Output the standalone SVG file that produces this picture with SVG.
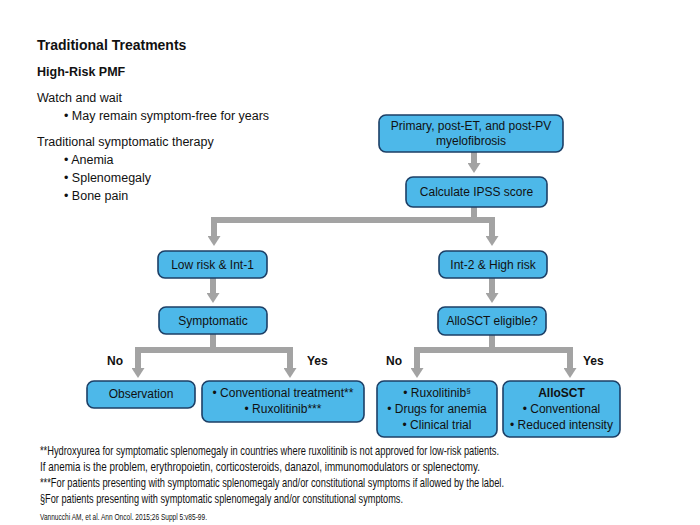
<svg xmlns="http://www.w3.org/2000/svg" width="700" height="525" viewBox="0 0 700 525">
<style>
text{font-family:"Liberation Sans",Arial,sans-serif;fill:#111}
.title{font-size:14px;font-weight:bold}
.sub{font-size:12.5px;font-weight:bold}
.body{font-size:12.5px}
.box{fill:#4db8e9;stroke:#1c3f66;stroke-width:1.6}
.bt{font-size:12px;text-anchor:middle}
.lbl{font-size:12px;font-weight:bold}
.conn{fill:none;stroke:#a3a3a3;stroke-width:6;stroke-linejoin:miter}
.fn{font-size:12.8px}
.cite{font-size:8.5px}
</style>
<defs>
<marker id="ah" viewBox="0 -6.5 10 13" refX="0" refY="0" markerWidth="10" markerHeight="13" markerUnits="userSpaceOnUse" orient="auto">
<path d="M0,-6.5 L10,0 L0,6.5 z" fill="#a3a3a3"/>
</marker>
</defs>
<rect width="700" height="525" fill="#fff"/>
<g id="header">
<text class="title" x="37" y="50">Traditional Treatments</text>
<text class="sub" x="37" y="76">High-Risk PMF</text>
<text class="body" x="37" y="102">Watch and wait</text>
<text class="body" x="64" y="120">• May remain symptom-free for years</text>
<text class="body" x="37" y="146">Traditional symptomatic therapy</text>
<text class="body" x="64" y="164">• Anemia</text>
<text class="body" x="64" y="182">• Splenomegaly</text>
<text class="body" x="64" y="200">• Bone pain</text>
</g>
<g id="connectors">
<path class="conn" d="M474,152 V163" marker-end="url(#ah)"/>
<path class="conn" d="M474,207 V220 H214 V236" marker-end="url(#ah)"/>
<path class="conn" d="M474,220 H492 V236" marker-end="url(#ah)"/>
<path class="conn" d="M213,278 V293" marker-end="url(#ah)"/>
<path class="conn" d="M492,278 V293" marker-end="url(#ah)"/>
<path class="conn" d="M213,334 V350 H138 V368" marker-end="url(#ah)"/>
<path class="conn" d="M213,350 H290 V368" marker-end="url(#ah)"/>
<path class="conn" d="M492,335 V350 H417 V368" marker-end="url(#ah)"/>
<path class="conn" d="M492,350 H570 V368" marker-end="url(#ah)"/>
</g>
<g id="n-primary">
<rect class="box" x="379" y="115" width="184" height="37" rx="7"/>
<text class="bt" x="471" y="130">Primary, post-ET, and post-PV</text>
<text class="bt" x="471" y="145">myelofibrosis</text>
</g>
<g id="n-ipss">
<rect class="box" x="406" y="177" width="141" height="30" rx="7"/>
<text class="bt" x="476.5" y="196">Calculate IPSS score</text>
</g>
<g id="n-low">
<rect class="box" x="158" y="251" width="109" height="27" rx="7"/>
<text class="bt" x="212.5" y="269">Low risk &amp; Int-1</text>
</g>
<g id="n-int2">
<rect class="box" x="439" y="251" width="108" height="27" rx="7"/>
<text class="bt" x="493" y="269">Int-2 &amp; High risk</text>
</g>
<g id="n-symptomatic">
<rect class="box" x="159" y="307" width="108" height="27" rx="7"/>
<text class="bt" x="213" y="325">Symptomatic</text>
</g>
<g id="n-allo-eligible">
<rect class="box" x="438" y="307" width="108" height="28" rx="7"/>
<text class="bt" x="492" y="325">AlloSCT eligible?</text>
</g>
<g id="labels">
<text class="lbl" x="107" y="365">No</text>
<text class="lbl" x="307" y="365">Yes</text>
<text class="lbl" x="386" y="365">No</text>
<text class="lbl" x="583" y="365">Yes</text>
</g>
<g id="n-observation">
<rect class="box" x="87" y="381" width="108" height="27" rx="7"/>
<text class="bt" x="141" y="398">Observation</text>
</g>
<g id="n-conventional">
<rect class="box" x="202" y="381" width="162" height="41" rx="7"/>
<text class="bt" x="283" y="397">• Conventional treatment**</text>
<text class="bt" x="283" y="413">• Ruxolitinib***</text>
</g>
<g id="n-ruxolitinib">
<rect class="box" x="377" y="381" width="120" height="56" rx="7"/>
<text class="bt" x="437" y="397">• Ruxolitinib<tspan font-size="8" dy="-4">§</tspan></text>
<text class="bt" x="437" y="413">• Drugs for anemia</text>
<text class="bt" x="437" y="429">• Clinical trial</text>
</g>
<g id="n-allosct">
<rect class="box" x="503" y="381" width="117" height="56" rx="7"/>
<text class="bt" x="561.5" y="397" font-weight="bold">AlloSCT</text>
<text class="bt" x="561.5" y="413">• Conventional</text>
<text class="bt" x="561.5" y="429">• Reduced intensity</text>
</g>
<g id="footnotes">
<text class="fn" x="40" y="455" textLength="459" lengthAdjust="spacingAndGlyphs">**Hydroxyurea for symptomatic splenomegaly in countries where ruxolitinib is not approved for low-risk patients.</text>
<text class="fn" x="40" y="471" textLength="440" lengthAdjust="spacingAndGlyphs">If anemia is the problem, erythropoietin, corticosteroids, danazol, immunomodulators or splenectomy.</text>
<text class="fn" x="40" y="487" textLength="464" lengthAdjust="spacingAndGlyphs">***For patients presenting with symptomatic splenomegaly and/or constitutional symptoms if allowed by the label.</text>
<text class="fn" x="40" y="503" textLength="363" lengthAdjust="spacingAndGlyphs">§For patients presenting with symptomatic splenomegaly and/or constitutional symptoms.</text>
<text class="cite" x="40" y="520" textLength="167" lengthAdjust="spacingAndGlyphs">Vannucchi AM, et al. Ann Oncol. 2015;26 Suppl 5:v85-99.</text>
</g>
</svg>
